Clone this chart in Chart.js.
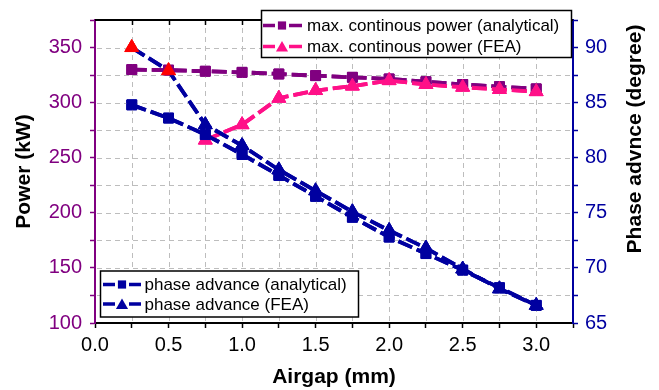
<!DOCTYPE html>
<html><head><meta charset="utf-8">
<script src="https://cdn.jsdelivr.net/npm/chart.js@4.4.1/dist/chart.umd.min.js"></script>
<style>html,body{margin:0;padding:0;background:#fff;}#wrap{width:659px;height:390px;}</style>
</head><body><div id="wrap"><canvas id="c" width="659" height="390"></canvas></div>
<script>
const airgap = [0.25, 0.5, 0.75, 1.0, 1.25, 1.5, 1.75, 2.0, 2.25, 2.5, 2.75, 3.0];
const powerAnalytical = [330, 329.5, 328.5, 327.5, 326, 324.5, 323, 321.5, 319, 316.5, 314.5, 312.5];
const powerFEA = [null, null, 266, 280, 304, 311, 315, 320, 316.5, 314, 312, 310];
const phaseAnalytical = [84.8, 83.6, 82.1, 80.3, 78.4, 76.5, 74.6, 72.8, 71.3, 69.8, 68.2, 66.6];
const phaseFEA = [90, 87.9, 83.0, 81.1, 78.9, 77.0, 75.1, 73.4, 71.8, 69.9, 68.1, 66.6];
const airgapTicks = [0.0, 0.5, 1.0, 1.5, 2.0, 2.5, 3.0];
const powerTicks = [100, 150, 200, 250, 300, 350];
const phaseTicks = [65, 70, 75, 80, 85, 90];
const seriesNames = ['max. continous power (analytical)', 'max. continous power (FEA)', 'phase advance (analytical)', 'phase advance (FEA)'];

const PURPLE = '#800080', PINK = '#FF1088', NAVY = '#0000A0', RED = '#FF0000';
const FONT = "'Liberation Sans', Arial, sans-serif";
const pts = (ys) => airgap.map((x, i) => ({x: x, y: ys[i]}));
const has = (arr, v) => arr.some(t => Math.abs(t - v) < 1e-6);

const common = {borderWidth: 3.8, borderDash: [15, 5], tension: 0, fill: false, pointBorderWidth: 1};
const datasets = [
  Object.assign({}, common, {label: seriesNames[0], data: pts(powerAnalytical), yAxisID: 'yP', borderColor: PURPLE, backgroundColor: PURPLE,
    pointStyle: 'rect', pointRadius: 7, pointBackgroundColor: PURPLE, pointBorderColor: PURPLE, order: 4}),
  Object.assign({}, common, {label: seriesNames[1], data: pts(powerFEA), yAxisID: 'yP', borderColor: PINK, backgroundColor: PINK,
    pointStyle: 'triangle', pointRadius: 8, pointBackgroundColor: PINK, pointBorderColor: PINK, order: 3}),
  Object.assign({}, common, {label: seriesNames[2], data: pts(phaseAnalytical), yAxisID: 'yA', borderColor: NAVY, backgroundColor: NAVY,
    pointStyle: 'rect', pointRadius: 7, pointBackgroundColor: NAVY, pointBorderColor: NAVY, order: 2}),
  Object.assign({}, common, {label: seriesNames[3], data: pts(phaseFEA), yAxisID: 'yA', borderColor: NAVY, backgroundColor: NAVY,
    pointStyle: 'triangle', pointRadius: 8,
    pointBackgroundColor: phaseFEA.map((v, i) => i < 2 ? RED : NAVY),
    pointBorderColor: phaseFEA.map((v, i) => i < 2 ? RED : NAVY), order: 1})
];

function drawDashGrid(chart) {
  const ctx = chart.ctx, a = chart.chartArea;
  const xs = chart.scales.x, ys = chart.scales.yP;
  ctx.save();
  ctx.fillStyle = '#bdbdbd';
  for (let v = 0.25; v < 3.2; v += 0.25) {
    const px = Math.round(xs.getPixelForValue(v));
    for (let y = a.bottom - 2; y > a.top; y -= 9) {
      const y0 = Math.max(a.top, y - 5);
      ctx.fillRect(px, y0, 1, y - y0);
    }
  }
  for (let v = 125; v < 375; v += 25) {
    const py = Math.round(ys.getPixelForValue(v));
    for (let x = a.left + 2; x < a.right; x += 9) {
      const x1 = Math.min(a.right, x + 5);
      ctx.fillRect(x, py, x1 - x, 1);
    }
  }
  ctx.restore();
}

const extras = {
  id: 'extras',
  afterDraw(chart) {
    const ctx = chart.ctx, a = chart.chartArea, xs = chart.scales.x;
    drawDashGrid(chart);
    const metas = chart.getSortedVisibleDatasetMetas();
    for (let i = metas.length - 1; i >= 0; --i) metas[i].controller.draw();
    ctx.save();
    ctx.strokeStyle = '#000'; ctx.lineWidth = 2; ctx.setLineDash([]);
    ctx.beginPath(); ctx.moveTo(a.left, a.top); ctx.lineTo(a.right, a.top); ctx.stroke();
    ctx.lineWidth = 1.5;
    for (let v = 0.25; v < 3.2; v += 0.25) {
      const px = Math.round(xs.getPixelForValue(v)) + 0.5;
      ctx.beginPath(); ctx.moveTo(px, a.top); ctx.lineTo(px, a.top + 5); ctx.stroke();
    }
    ctx.save();
    ctx.translate(635, 139);
    ctx.rotate(-Math.PI / 2);
    ctx.fillStyle = '#000'; ctx.font = "bold 21px " + FONT;
    ctx.textAlign = 'center'; ctx.textBaseline = 'middle';
    ctx.fillText('Phase advnce (degree)', 0, 0);
    ctx.restore();
    const drawLegend = (box, items) => {
      ctx.fillStyle = '#fff';
      ctx.fillRect(box.x, box.y, box.w, box.h);
      ctx.strokeStyle = '#000'; ctx.lineWidth = 1.5;
      ctx.strokeRect(box.x, box.y, box.w, box.h);
      items.forEach(it => {
        const ds = chart.data.datasets[it.idx];
        const col = ds.borderColor;
        ctx.strokeStyle = col; ctx.lineWidth = 3.5; ctx.setLineDash([]);
        ctx.beginPath();
        ctx.moveTo(it.x0, it.y); ctx.lineTo(it.mx - 7, it.y);
        ctx.moveTo(it.mx + 7, it.y); ctx.lineTo(it.x1, it.y);
        ctx.stroke();
        ctx.fillStyle = col; ctx.strokeStyle = col;
        Chart.helpers.drawPoint(ctx, {pointStyle: ds.pointStyle, radius: ds.pointStyle === 'rect' ? 5.8 : 7, rotation: 0, borderWidth: 0}, it.mx, it.y + (ds.pointStyle === 'triangle' ? 1.5 : 0));
        ctx.fillStyle = '#000'; ctx.font = "17px " + FONT;
        ctx.textAlign = 'left'; ctx.textBaseline = 'middle';
        ctx.fillText(ds.label, it.tx, it.y + 1);
      });
    };
    drawLegend({x: 261.5, y: 10.5, w: 310, h: 47}, [
      {idx: 0, x0: 263, x1: 302, mx: 282, tx: 307, y: 25.5},
      {idx: 1, x0: 263, x1: 302, mx: 282, tx: 307, y: 46.5}
    ]);
    drawLegend({x: 100.5, y: 271, w: 258, h: 46}, [
      {idx: 2, x0: 103, x1: 141, mx: 122, tx: 144.5, y: 284.5},
      {idx: 3, x0: 103, x1: 141, mx: 122, tx: 144.5, y: 304}
    ]);
    ctx.restore();
  }
};

new Chart(document.getElementById('c'), {
  type: 'line',
  data: {datasets: datasets},
  plugins: [extras],
  options: {
    responsive: false, animation: false, devicePixelRatio: 1,
    layout: {padding: {top: 8, left: 0, right: 0, bottom: 0}},
    plugins: {legend: {display: false}, tooltip: {enabled: false}},
    scales: {
      x: {
        type: 'linear', position: 'bottom', min: 0, max: 3.25,
        afterFit: (s) => { s.height = 67; },
        ticks: {stepSize: 0.25, autoSkip: false, maxRotation: 0, padding: 5, color: '#000',
          font: {family: FONT, size: 20},
          callback: (v) => has(airgapTicks, v) ? Number(v).toFixed(1) : ''},
        grid: {drawOnChartArea: false, tickColor: '#000', tickLength: 5, tickWidth: 1.5},
        border: {color: '#000', width: 2},
        title: {display: true, text: 'Airgap (mm)', color: '#000', font: {family: FONT, size: 21, weight: 'bold'}, padding: {top: 0, bottom: 0}}
      },
      yP: {
        type: 'linear', position: 'left', min: 100, max: 375,
        afterFit: (s) => { s.width = 95; },
        ticks: {stepSize: 25, autoSkip: false, padding: 8, color: PURPLE, font: {family: FONT, size: 20},
          callback: (v) => has(powerTicks, v) ? String(v) : ''},
        grid: {drawOnChartArea: false, tickColor: PURPLE, tickLength: 5, tickWidth: 1.5},
        border: {color: PURPLE, width: 2},
        title: {display: true, text: 'Power (kW)', color: '#000', font: {family: FONT, size: 21, weight: 'bold'}, padding: {top: 12, bottom: 0}}
      },
      yA: {
        type: 'linear', position: 'right', min: 65, max: 92.5,
        afterFit: (s) => { s.width = 86; },
        ticks: {stepSize: 2.5, autoSkip: false, padding: 7, color: NAVY, font: {family: FONT, size: 20},
          callback: (v) => has(phaseTicks, v) ? String(v) : ''},
        grid: {drawOnChartArea: false, tickColor: NAVY, tickLength: 5, tickWidth: 1.5},
        border: {color: NAVY, width: 2},
        title: {display: false}
      }
    }
  }
});
</script></body></html>
